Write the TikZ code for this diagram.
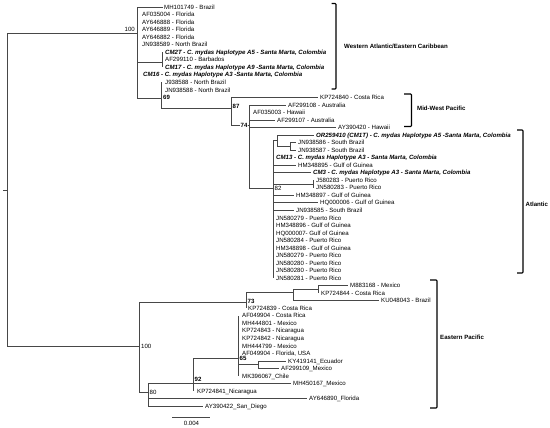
\documentclass[tikz,border=0pt]{standalone}
\usepackage{fontspec}
\setmainfont{Liberation Sans}
\begin{document}
\begin{tikzpicture}[x=1pt,y=-1pt,
  lab/.style={anchor=west, inner sep=0pt, font=\fontsize{6.1}{7}\selectfont, text height=4.4pt, text depth=0pt},
  hap/.style={lab, font=\fontsize{6.1}{7}\selectfont\bfseries\itshape},
  bsv/.style={lab, font=\fontsize{6.1}{7}\selectfont},
  bsb/.style={lab, font=\fontsize{6.1}{7}\selectfont\bfseries},
  grp/.style={lab, font=\fontsize{6.1}{7}\selectfont\bfseries},
  br/.style={line width=0.6pt, black!72},
  brk/.style={line width=1.1pt, black, rounded corners=0.8pt},
]
\useasboundingbox (0,0) rectangle (550,428);

% ---------- tip labels ----------
\node[lab] (t0) at (164,7.00) {MH101749 - Brazil};
\node[lab] (t1) at (142,14.53) {AF035004 - Florida};
\node[lab] (t2) at (142,22.06) {AY646888 - Florida};
\node[lab] (t3) at (142,29.59) {AY646889 - Florida};
\node[lab] (t4) at (142,37.12) {AY646882 - Florida};
\node[lab] (t5) at (142,44.65) {JN938589 - North Brazil};
\node[hap] (t6) at (165,52.18) {CM2T - C. mydas Haplotype A5 - Santa Marta, Colombia};
\node[lab] (t7) at (165,59.71) {AF299110 - Barbados};
\node[hap] (t8) at (165,67.24) {CM17 - C. mydas Haplotype A9 -Santa Marta, Colombia};
\node[hap] (t9) at (143,74.77) {CM16 - C. mydas Haplotype A3 -Santa Marta, Colombia};
\node[lab] (t10) at (165,82.30) {J938588 - North Brazil};
\node[lab] (t11) at (165,89.83) {JN938588 - North Brazil};
\node[lab] (t12) at (320,97.36) {KP724840 - Costa Rica};
\node[lab] (t13) at (288,104.89) {AF299108 - Australia};
\node[lab] (t14) at (253,112.42) {AF035003 - Hawaii};
\node[lab] (t15) at (277,119.95) {AF299107 - Australia};
\node[lab] (t16) at (338,127.48) {AY390420 - Hawaii};
\node[hap] (t17) at (316,135.01) {OR259410 (CM1T) - C. mydas Haplotype A5 -Santa Marta, Colombia};
\node[lab] (t18) at (298,142.54) {JN938586 - South Brazil};
\node[lab] (t19) at (298,150.07) {JN938587 - South Brazil};
\node[hap] (t20) at (276,157.60) {CM13 - C. mydas Haplotype A3 - Santa Marta, Colombia};
\node[lab] (t21) at (298,165.13) {HM348895 - Gulf of Guinea};
\node[hap] (t22) at (313,172.66) {CM3 - C. mydas Haplotype A3 - Santa Marta, Colombia};
\node[lab] (t23) at (316,180.19) {J580283 - Puerto Rico};
\node[lab] (t24) at (316,187.72) {JN580283 - Puerto Rico};
\node[lab] (t25) at (296,195.25) {HM348897 - Gulf of Guinea};
\node[lab] (t26) at (320,202.78) {HQ000006 - Gulf of Guinea};
\node[lab] (t27) at (296,210.31) {JN938585 - South Brazil};
\node[lab] (t28) at (276,217.84) {JN580279 - Puerto Rico};
\node[lab] (t29) at (276,225.37) {HM348896 - Gulf of Guinea};
\node[lab] (t30) at (276,232.90) {HQ000007- Gulf of Guinea};
\node[lab] (t31) at (276,240.43) {JN580284 - Puerto Rico};
\node[lab] (t32) at (276,247.96) {HM348898 - Gulf of Guinea};
\node[lab] (t33) at (276,255.49) {JN580279 - Puerto Rico};
\node[lab] (t34) at (276,263.02) {JN580280 - Puerto Rico};
\node[lab] (t35) at (276,270.55) {JN580280 - Puerto Rico};
\node[lab] (t36) at (276,278.08) {JN580281 - Puerto Rico};
\node[lab] (t37) at (350,285.61) {M883168 - Mexico};
\node[lab] (t38) at (321,293.14) {KP724844 - Costa Rica};
\node[lab] (t39) at (381,300.67) {KU048043 - Brazil};
\node[lab] (t40) at (248,308.20) {KP724839 - Costa Rica};
\node[lab] (t41) at (242,315.73) {AF049904 - Costa Rica};
\node[lab] (t42) at (242,323.26) {MH444801 - Mexico};
\node[lab] (t43) at (242,330.79) {KP724843 - Nicaragua};
\node[lab] (t44) at (242,338.32) {KP724842 - Nicaragua};
\node[lab] (t45) at (242,345.85) {MH444799 - Mexico};
\node[lab] (t46) at (242,353.38) {AF049904 - Florida, USA};
\node[lab] (t47) at (288,360.91) {KY419141\_Ecuador};
\node[lab] (t48) at (281,368.44) {AF299109\_Mexico};
\node[lab] (t49) at (242,375.97) {MK396067\_Chile};
\node[lab] (t50) at (293,383.50) {MH450167\_Mexico};
\node[lab] (t51) at (197,391.03) {KP724841\_Nicaragua};
\node[lab] (t52) at (309,398.56) {AY646890\_Florida};
\node[lab] (t53) at (205,406.09) {AY390422\_San\_Diego};

% ---------- internal nodes ----------
\coordinate (R) at (7,190);
\coordinate (A) at (137,33);
\coordinate (C1) at (162,62);
\coordinate (N69) at (161,98);
\coordinate (N87) at (231,108);
\coordinate (N74) at (249,125);
\coordinate (N82) at (273,188);
\coordinate (B) at (277,140.5);
\coordinate (C2) at (290,146.3);
\coordinate (C3) at (313,184);
\coordinate (D) at (139,346);
\coordinate (H) at (246,302);
\coordinate (G) at (293,292.5);
\coordinate (K) at (318,289.4);
\coordinate (E) at (148,392);
\coordinate (F) at (193,383.5);
\coordinate (I) at (238,358);
\coordinate (J) at (258,364.7);

% ---------- branches ----------
\draw[br] (R) -- ++(-4,0);
\draw[br] (R) |- (A);
\draw[br] (R) |- (D);
\draw[br] (A) |- ([xshift=-1.5pt]t0.west);
\draw[br] (A) |- (C1);
\draw[br] (A) |- (N69);
\draw[br] (C1) -- (C1 |- t6.west);
\draw[br] (C1) -- (C1 |- t8.west);
\draw[br] (N69) -- (N69 |- t10.west);
\draw[br] (N69) |- (N87);
\draw[br] (N87) |- ([xshift=-2pt]t12.west);
\draw[br] (N87) |- (N74);
\draw[br] (N74) |- ([xshift=-2pt]t13.west);
\draw[br] (N74) |- ([xshift=-2pt]t15.west);
\draw[br] (N74) |- ([xshift=-2pt]t16.west);
\draw[br] (N74) |- (N82);
\draw[br] (N82) |- (B);
\draw[br] (N82) -- (N82 |- t36.west);
\draw[br] (N82) |- ([xshift=-2pt]t21.west);
\draw[br] (N82) |- ([xshift=-2pt]t22.west);
\draw[br] (N82) |- (C3);
\draw[br] (N82) |- ([xshift=-2pt]t25.west);
\draw[br] (N82) |- ([xshift=-2pt]t26.west);
\draw[br] (N82) |- ([xshift=-2pt]t27.west);
\draw[br] (B) |- ([xshift=-2pt]t17.west);
\draw[br] (B) |- (C2);
\draw[br] (C2) |- ([xshift=-2pt]t18.west);
\draw[br] (C2) |- ([xshift=-2pt]t19.west);
\draw[br] (C3) -- (C3 |- t23.west);
\draw[br] (C3) -- (C3 |- t24.west);

\draw[br] (D) |- (H);
\draw[br] (D) |- (E);
\draw[br] (H) |- (G);
\draw[br] (H) -- (H |- t40.west);
\draw[br] (G) |- (K);
\draw[br] (G) |- ([xshift=-2pt]t39.west);
\draw[br] (K) |- ([xshift=-2pt]t37.west);
\draw[br] (K) -- (K |- t38.west);
\draw[br] (E) |- (F);
\draw[br] (E) |- ([xshift=-2pt]t52.west);
\draw[br] (E) |- ([xshift=-2pt]t53.west);
\draw[br] (F) |- (I);
\draw[br] (F) -- ([xshift=-2pt]t50.west);
\draw[br] (F) -- (F |- t51.west);
\draw[br] (I) -- (I |- t41.west);
\draw[br] (I) -- (I |- t49.west);
\draw[br] (I) |- (J);
\draw[br] (J) |- ([xshift=-2pt]t47.west);
\draw[br] (J) |- ([xshift=-2pt]t48.west);

% ---------- bootstrap values ----------
\node[bsv, anchor=south east] (b100a) at (135,31.5) {100};
\node[bsb] (b69) at (163,97.5) {69};
\node[bsb] (b87) at (232.5,106.5) {87};
\node[bsb, anchor=east, fill=white, inner sep=0.4pt] (b74) at (248,125) {74};
\node[bsv] (b82) at (274.5,188) {82};
\node[bsv] (b100b) at (141,346) {100};
\node[bsb] (b73) at (247.5,301.5) {73};
\node[bsv] (b80) at (149.5,392.5) {80};
\node[bsb, anchor=south west] (b92) at (194.5,381.5) {92};
\node[bsb] (b65) at (239.5,358.5) {65};

% ---------- group brackets ----------
\draw[brk] (331.5,3.5) -- (336,3.5) -- (336,89) -- (331.5,89);
\node[grp] (gWA) at (344,46) {Western Atlantic/Eastern Caribbean};
\draw[brk] (404,94) -- (411.5,94) -- (411.5,126.5) -- (404,126.5);
\node[grp] (gMWP) at (417,108.5) {Mid-West Pacific};
\draw[brk] (517,130) -- (523,130) -- (523,273) -- (517,273);
\node[grp] (gATL) at (525.5,204.5) {Atlantic};
\draw[brk] (430,280) -- (437,280) -- (437,408) -- (430,408);
\node[grp] (gEP) at (440,337) {Eastern Pacific};

% ---------- scale bar ----------
\coordinate (s1) at (172,417.5);
\coordinate (s2) at (210,417.5);
\draw[br] (s1) -- (s2);
\node[bsv, anchor=north] (sc) at (191.5,421) {0.004};
\end{tikzpicture}
\end{document}
